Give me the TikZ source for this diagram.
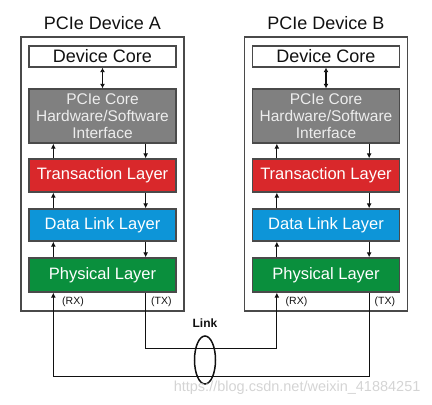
\documentclass[tikz,border=0pt]{standalone}
\usepackage{fontspec}
\setmainfont{Liberation Sans}
\usepackage{tikz}
\usetikzlibrary{arrows.meta,calc,shapes.geometric}
\definecolor{cInk}{HTML}{111111}
\definecolor{cFrame}{HTML}{4A4A4A}
\definecolor{cGrayBox}{HTML}{808080}
\definecolor{cGrayTxt}{HTML}{EDEDED}
\definecolor{cRed}{HTML}{D9282B}
\definecolor{cBlue}{HTML}{0D95D8}
\definecolor{cGreen}{HTML}{0A8F3D}
\definecolor{cMark}{HTML}{D4D4D4}
\tikzset{
  lyr/.style={draw=cFrame,fill=#1,line width=1.3pt,minimum width=147pt,text=white,font=\fontsize{16.5}{18}\selectfont,inner sep=0pt},
  lyr/.default=cGrayBox,
  frame/.style={draw=cFrame,line width=1.3pt},
  arr/.style={-{Latex[length=5pt,width=5pt]},line width=1.2pt,color=cInk},
  darr/.style={{Latex[length=4.5pt,width=5pt]}-{Latex[length=4.5pt,width=5pt]},line width=1.2pt,color=cInk},
  wire/.style={line width=1.2pt,color=cInk},
  tag/.style={font=\fontsize{10.5}{12}\selectfont,text=cInk,inner sep=1pt},
}
\begin{document}
\begin{tikzpicture}[x=1pt,y=-1pt]
    \useasboundingbox (0,0) rectangle (432,405);
    % the two devices
    \foreach \dx/\d in {0/A,223.5/B}{
      \begin{scope}[shift={(\dx,0)}]
        \node[frame,minimum width=163pt,minimum height=274pt,inner sep=0pt] (dev\d) at (102.5,174) {};
        \node[font=\fontsize{18}{20}\selectfont,text=cInk,anchor=south] (ttl\d) at (102.5,33) {PCIe Device \d};
        \node[lyr=white,text=cInk,minimum height=21pt,font=\fontsize{18}{20}\selectfont] (core\d) at (102.5,56.5) {Device Core};
        \node[lyr,text=cGrayTxt,minimum height=54pt,align=center,font=\fontsize{15.5}{17}\selectfont] (hw\d) at (102.5,116) {PCIe Core\\Hardware/Software\\Interface};
        \node[lyr=cRed,minimum height=33pt] (tl\d) at (102.5,175.5) {Transaction Layer};
        \node[lyr=cBlue,minimum height=32pt] (dl\d) at (102.5,225) {Data Link Layer};
        \node[lyr=cGreen,minimum height=34pt] (ph\d) at (102.5,275) {Physical Layer};
        % arrows between layers
        \draw[darr] (core\d.south) -- (hw\d.north);
        \draw[arr] ([xshift=25pt]tl\d.north west) -- ([xshift=25pt]hw\d.south west);
        \draw[arr] ([xshift=-31pt]hw\d.south east) -- ([xshift=-31pt]tl\d.north east);
        \draw[arr] ([xshift=25pt]dl\d.north west) -- ([xshift=25pt]tl\d.south west);
        \draw[arr] ([xshift=-31pt]tl\d.south east) -- ([xshift=-31pt]dl\d.north east);
        \draw[arr] ([xshift=25pt]ph\d.north west) -- ([xshift=25pt]dl\d.south west);
        \draw[arr] ([xshift=-31pt]dl\d.south east) -- ([xshift=-31pt]ph\d.north east);
        \node[tag,anchor=west] (rx\d) at (61,302) {(RX)};
        \node[tag,anchor=west] (tx\d) at (150,302) {(TX)};
      \end{scope}}
    % link
    \node[font=\fontsize{12}{14}\selectfont\bfseries,text=cInk] (lnk) at (205,323) {Link};
    \draw[arr] ([xshift=-31pt]phA.south east) -- ++(0,56) -| ([xshift=25pt]phB.south west);
    \draw[arr] ([xshift=-31pt]phB.south east) -- ++(0,84) -| ([xshift=25pt]phA.south west);
    \node[ellipse,draw=cInk,line width=1.5pt,minimum width=21pt,minimum height=48pt,inner sep=0pt] (pair) at (205,360) {};
    \node[font=\fontsize{14.5}{16}\selectfont,text=cMark,anchor=east] (wm) at (424,388) {https://blog.csdn.net/weixin\_41884251};
\end{tikzpicture}
\end{document}
